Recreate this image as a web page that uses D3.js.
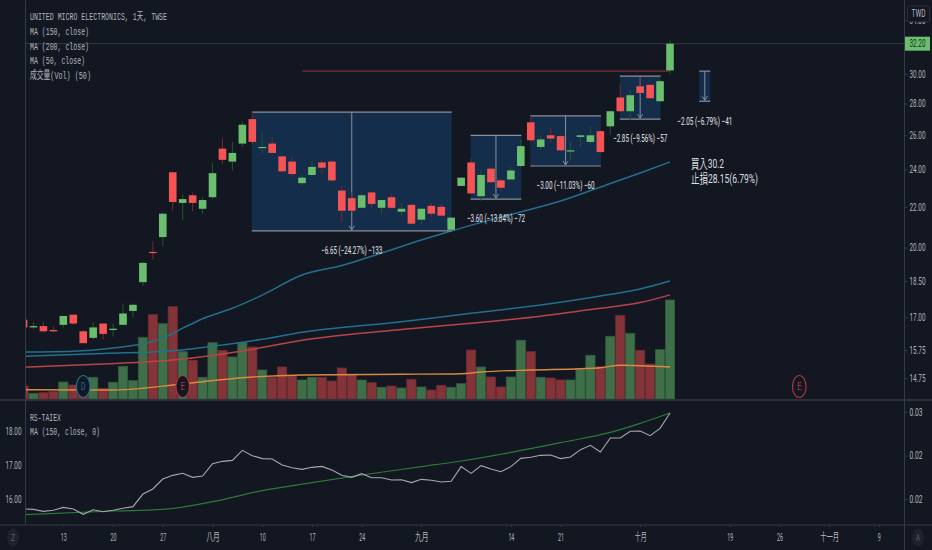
<!DOCTYPE html>
<html>
<head>
<meta charset="utf-8">
<script src="https://cdn.jsdelivr.net/npm/d3@7"></script>
<style>
  html, body { margin: 0; padding: 0; background: #131722; overflow: hidden; }
  svg { display: block; }
  text { font-family: Roboto, "Noto Sans CJK TC", sans-serif; }
  .legend text { font-family: "Liberation Mono", "Noto Sans CJK TC", monospace; }
</style>
</head>
<body>
<svg id="chart" width="932" height="550"></svg>
<script>
// daily bars, first one is cut by the left scale
const firstBar = -1;
const opens = [16.9,16.6,16.65,16.5,16.7,17.1,16.45,16.2,16.75,16.5,16.7,17.25,18.45,19.8,20.5,23.85,22.2,22.6,21.9,22.5,25.2,24.45,25.5,27.0,25.25,25.5,24.75,24.45,23.25,23.7,24.4,24.45,22.85,22.45,21.95,22.75,21.95,22.5,21.75,22.1,21.35,22.05,22.0,20.85,23.1,24.4,22.55,24.05,23.4,23.45,24.2,26.8,25.3,26.0,25.95,25.05,25.9,25.6,26.25,26.55,28.4,27.5,29.15,29.25,28.15,30.25];
const highs = [16.95,16.8,16.8,16.65,17.05,17.1,16.5,16.8,16.75,16.75,17.55,17.55,19.35,20.3,21.7,23.85,22.65,22.75,22.5,24.4,25.8,25.6,26.85,27.45,26.2,25.9,24.8,24.7,23.75,24.5,24.55,24.55,23.1,22.75,22.7,22.8,22.35,22.65,22.2,22.15,21.95,22.2,22.15,21.5,23.55,24.6,23.95,24.15,23.5,24.15,25.75,27.2,26.0,26.45,26.0,25.6,26.0,26.55,26.3,27.55,29.25,28.9,29.8,29.25,29.6,32.45];
const lows = [16.55,16.55,16.4,16.4,16.6,16.7,16.0,16.15,16.15,16.25,16.7,17.0,18.3,19.45,20.05,21.8,21.35,21.75,21.65,22.4,24.3,23.95,25.3,25.45,24.95,24.95,23.8,23.6,23.1,23.6,23.75,23.35,21.25,21.75,21.9,21.95,21.6,21.9,21.55,21.1,21.1,21.5,21.55,20.85,23.1,22.65,22.3,23.3,22.8,23.45,24.15,25.6,25.15,25.55,25.1,24.5,25.3,25.5,24.95,26.05,27.45,26.95,28.65,28.3,28.1,29.95];
const closes = [16.6,16.65,16.45,16.45,17.05,16.75,16.0,16.6,16.35,16.55,17.15,17.5,19.3,19.75,21.65,22.25,22.4,22.2,22.35,23.8,24.55,24.95,26.65,25.6,25.3,24.95,23.9,23.75,23.55,24.15,24.1,23.4,21.8,21.8,22.6,22.15,22.35,21.95,21.9,21.15,21.9,21.65,21.55,21.45,23.55,22.7,23.7,23.3,23.0,23.95,25.35,25.7,25.75,25.8,25.1,25.1,26.0,26.0,25.0,27.5,27.5,28.55,28.7,28.35,29.5,32.2];
const volumes = [13,5.7,6.3,7.3,17,14,12,21.7,10.7,16.7,32.7,18.3,61.7,84.3,75.3,92.3,47.3,38.7,21.7,56.3,48.7,42,56.3,52,29,21.7,32,23.3,19,21.7,21.7,18,31,24,19,16.3,11.7,13,11,19.7,12,9,13.7,11.7,15.3,49,32,22,12,22,58.7,47.3,21.7,21,19,19,29.7,43.7,32.3,62.7,83.7,65.7,48.7,35,49.3,99];

// moving averages as read at a few bars
const ma50Bars = [-1,4,8,11,13,15,17,20,23,27,31,35,39,42,47,53,58,61,64];
const ma50Values = [15.67,15.7,15.82,15.98,16.19,16.57,16.94,17.36,17.9,18.76,19.18,19.75,20.36,20.79,21.48,22.3,23.23,23.81,24.43];
const ma150Bars = [-1,7,14,18,23,27,37,44,51,57,61,64];
const ma150Values = [15.52,15.62,15.72,15.89,16.15,16.41,16.82,17.16,17.49,17.86,18.16,18.5];
const ma200Bars = [-1,7,14,21,27,37,44,51,57,61,64];
const ma200Values = [15.13,15.24,15.38,15.71,16.11,16.52,16.76,17.04,17.36,17.59,17.91];
const volMaBars = [-1,8,11,14,17,21,27,37,43,45,50,55,57,59,61,64];
const volMaValues = [9.3,9,10.7,14,17.3,21.3,24,24.7,25.3,27,29,30.3,31.3,33.7,33.3,32];

// RS-TAIEX pane
const rsValues = [.01885,.01881,.01858,.0187,.01904,.01885,.01824,.01877,.01854,.0187,.01893,.01912,.02057,.02115,.0223,.02272,.02295,.02249,.02264,.02406,.02433,.02444,.02559,.02498,.02464,.0246,.02391,.0236,.02341,.02364,.02375,.02333,.02272,.02249,.02291,.02245,.02245,.02218,.02222,.02188,.02226,.02215,.02195,.02203,.02372,.02295,.02383,.02345,.02314,.02372,.02467,.02479,.02502,.02506,.02464,.02483,.02567,.02617,.0254,.02701,.02701,.02778,.02782,.02728,.02812,.02989];
const rsMaBars = [-1,8,13,18,23,28,33,39,43,48,53,58,61,64];
const rsMaValues = [.0182,.01862,.01881,.01969,.02096,.02188,.02276,.02372,.02437,.02536,.02648,.02766,.0287,.02989];

// price range drawings
const rangeFrom = [22,44,50,59,67];
const rangeTo = [42,49,57,63,68];
const rangeTop = [27.45,26,27.2,29.85,30.2];
const rangeBottom = [20.8,22.4,24.2,27,28.15];
const rangeLabels = ["−6.65 (−24.27%) −133","−3.60 (−13.84%) −72","−3.00 (−11.03%) −60","−2.85 (−9.56%) −57","−2.05 (−6.79%) −41"];
const rangeLabelWidths = [61,58,58,54,55];

const buyPrice = 30.2, buyFrom = 27, buyTo = 64;
const lastPrice = 32.2;
const noteLines = ["買入30.2","止損28.15(6.79%)"];

const priceTicks = [34,30,28,26,24,22,20,18.5,17,15.75,14.75];
const rsRightTicks = [0.03,0.025,0.02];
const rsRightLabels = ["0.03","0.02","0.02"];
const rsLeftTicks = [18,17,16];
const dateBars = [3,8,13,18,23,28,33,39,48,53,61,70,75,80,85];
const dateLabels = ["13","20","27","八月","10","17","24","九月","14","21","十月","19","26","十一月","9"];
const dateLabelWidths = [6,6,6,13.5,6,6,6,13.5,6,6,12,6,6,19,3];
const earnings = [[5,"D"],[15,"E"],[77,"E"]];

const legendLines = ["UNITED MICRO ELECTRONICS, 1天, TWSE","MA (150, close)","MA (200, close)","MA (50, close)","成交量(Vol) (50)"];
const legendWidths = [137,59,59,55,61];
const rsLegendLines = ["RS-TAIEX","MA (150, close, 0)"];
const rsLegendWidths = [31,70];

const leftX = 25.5, rightX = 904.5, paneY = 400, bottomY = 525;
const up = "#69bf6d", down = "#f65454", textCol = "#b2b5be", lineCol = "#363a45";

const svg = d3.select("#chart");
svg.append("rect").attr("width", 932).attr("height", 550).attr("fill", "#131722");
svg.append("clipPath").attr("id", "plot").append("rect")
  .attr("x", leftX).attr("y", 0).attr("width", rightX - leftX).attr("height", bottomY);

const x = d3.scaleLinear().domain([0, 64]).range([33.5, 670]);
const y = d3.scaleLog().domain([30, 14.75]).range([74, 378]);
const yVol = d3.scaleLinear().domain([0, 99]).range([399, 300]);
const yRs = d3.scaleLinear().domain([0.02, 0.03]).range([499, 412]);
const yRsLeft = d3.scaleLinear().domain([16, 18]).range([499, 431]);

const bars = d3.range(opens.length);
const barX = i => x(i + firstBar);
const plot = svg.append("g").attr("clip-path", "url(#plot)");

// squeezes a text to the width it has in the screenshot
function fit(sel, w) {
  sel.attr("textLength", w).attr("lengthAdjust", "spacingAndGlyphs");
}

// volume
plot.append("g").selectAll("rect").data(bars).join("rect")
  .attr("x", i => barX(i) - 4.6)
  .attr("width", 9.2)
  .attr("y", i => yVol(volumes[i]))
  .attr("height", i => yVol(0) - yVol(volumes[i]))
  .attr("fill", i => closes[i] >= opens[i] ? "#3f6f49" : "#843338")
  .attr("stroke", i => closes[i] >= opens[i] ? "#335a3d" : "#6c2c31")
  .attr("stroke-width", 0.8);

function drawLine(g, barList, values, scale, color, width) {
  const line = d3.line().x(d => x(d[0])).y(d => scale(d[1])).curve(d3.curveMonotoneX);
  g.append("path")
    .attr("d", line(barList.map((b, k) => [b, values[k]])))
    .attr("fill", "none").attr("stroke", color).attr("stroke-width", width);
}

drawLine(plot, volMaBars, volMaValues, yVol, "#d98a42", 1.4);
drawLine(plot, ma200Bars, ma200Values, y, "#b84448", 1.5);
drawLine(plot, ma150Bars, ma150Values, y, "#22708c", 1.5);
drawLine(plot, ma50Bars, ma50Values, y, "#22708c", 1.5);

// last price line and buy line
plot.append("line").attr("x1", leftX).attr("x2", rightX)
  .attr("y1", y(lastPrice)).attr("y2", y(lastPrice))
  .attr("stroke", "#2c3f3a").attr("stroke-width", 1);
plot.append("line").attr("x1", x(buyFrom)).attr("x2", x(buyTo))
  .attr("y1", y(buyPrice)).attr("y2", y(buyPrice))
  .attr("stroke", "#7c2f30").attr("stroke-width", 1.3);

// price range boxes
rangeLabels.forEach((label, k) => {
  const x0 = x(rangeFrom[k]) - 0.5, x1 = x(rangeTo[k]) + 0.5;
  const y0 = y(rangeTop[k]), y1 = y(rangeBottom[k]);
  const mx = (x0 + x1) / 2;
  const g = plot.append("g");
  g.append("rect").attr("x", x0).attr("y", y0).attr("width", x1 - x0).attr("height", y1 - y0).attr("fill", "#132d4a");
  [y0, y1].forEach(v => g.append("line").attr("x1", x0).attr("x2", x1).attr("y1", v).attr("y2", v)
    .attr("stroke", "#8d9099").attr("stroke-width", 1.2));
  g.append("path").attr("d", `M${mx},${y0}V${y1 - 1}M${mx - 2.6},${y1 - 5}L${mx},${y1 - 1}L${mx + 2.6},${y1 - 5}`)
    .attr("fill", "none").attr("stroke", "#8d9099").attr("stroke-width", 1);
  g.append("text").attr("x", mx).attr("y", y1 + 19.5).attr("dy", "0.35em")
    .attr("text-anchor", "middle").attr("fill", "#e4e5e8").attr("font-size", 11)
    .text(label).call(fit, rangeLabelWidths[k]);
});

// candles
const candles = plot.append("g");
candles.selectAll("line").data(bars).join("line")
  .attr("x1", i => barX(i)).attr("x2", i => barX(i))
  .attr("y1", i => y(highs[i])).attr("y2", i => y(lows[i]))
  .attr("stroke", i => closes[i] >= opens[i] ? "#24512f" : "#6b2a2e").attr("stroke-width", 1.1);
candles.selectAll("rect").data(bars).join("rect")
  .attr("x", i => barX(i) - 3.8)
  .attr("width", 7.6)
  .attr("y", i => y(Math.max(opens[i], closes[i])))
  .attr("height", i => Math.max(1.2, Math.abs(y(opens[i]) - y(closes[i]))))
  .attr("fill", i => closes[i] >= opens[i] ? up : down);

// earnings and dividend badges
earnings.forEach(([b, letter]) => {
  const col = letter === "D" ? "#1f6f93" : "#a8383c";
  const g = svg.append("g").attr("transform", `translate(${x(b)},386.5)`);
  g.append("ellipse").attr("rx", 6.8).attr("ry", 11).attr("fill", "#131722").attr("stroke", col).attr("stroke-width", 1.2);
  g.append("text").attr("dy", "0.35em").attr("text-anchor", "middle").attr("fill", col)
    .attr("font-size", 10).text(letter).call(fit, 4.5);
});

// notes
noteLines.forEach((t, k) => {
  svg.append("text").attr("x", 691).attr("y", 163 + k * 15).attr("dy", "0.35em")
    .attr("fill", "#dcdde0").attr("font-size", 13).text(t).call(fit, k ? 67 : 33);
});

// RS pane
const rsBars = bars.map(i => i + firstBar);
drawLine(plot, rsMaBars, rsMaValues, yRs, "#2b7a3a", 1.2);
const rsLine = d3.line().x(d => x(d[0])).y(d => yRs(d[1]));
plot.append("path").attr("d", rsLine(rsBars.map((b, k) => [b, rsValues[k]])))
  .attr("fill", "none").attr("stroke", "#a6a8ae").attr("stroke-width", 1.1);

// frame
svg.append("line").attr("x1", 0).attr("x2", 932).attr("y1", paneY).attr("y2", paneY)
  .attr("stroke", lineCol).attr("stroke-width", 1.6);

function styleAxis(g, width) {
  g.select(".domain").attr("stroke", lineCol);
  g.selectAll(".tick line").attr("stroke", lineCol);
  g.selectAll(".tick text").attr("fill", textCol).attr("font-size", 10.5)
    .attr("font-family", "Roboto").call(fit, width);
}

// right scale of the price pane
const gPrice = svg.append("g").attr("transform", `translate(${rightX},0)`)
  .call(d3.axisRight(y).tickValues(priceTicks).tickFormat(d3.format(".2f")).tickSize(3).tickPadding(2));
gPrice.select(".domain").remove();
styleAxis(gPrice, 16);

const gRsRight = svg.append("g").attr("transform", `translate(${rightX},0)`)
  .call(d3.axisRight(yRs).tickValues(rsRightTicks).tickFormat((d, k) => rsRightLabels[k]).tickSize(3).tickPadding(2));
gRsRight.select(".domain").remove();
styleAxis(gRsRight, 13);

const gRsLeft = svg.append("g").attr("transform", `translate(${leftX},0)`)
  .call(d3.axisLeft(yRsLeft).tickValues(rsLeftTicks).tickFormat(d3.format(".2f")).tickSize(0).tickPadding(4));
gRsLeft.select(".domain").remove();
styleAxis(gRsLeft, 16);

// date axis
const gDate = svg.append("g").attr("transform", `translate(0,${bottomY})`)
  .call(d3.axisBottom(x).tickValues(dateBars).tickFormat((d, k) => dateLabels[k]).tickSize(2).tickPadding(6));
gDate.select(".domain").remove();
gDate.selectAll(".tick line").attr("stroke", lineCol);
gDate.selectAll(".tick text").attr("fill", textCol).attr("font-size", 11)
  .each(function (d, k) { d3.select(this).call(fit, dateLabelWidths[k]); });

[[leftX, 0, leftX, bottomY], [rightX, 0, rightX, 550], [0, bottomY, 932, bottomY]].forEach(([a, b, c, e]) => {
  svg.append("line").attr("x1", a).attr("y1", b).attr("x2", c).attr("y2", e)
    .attr("stroke", lineCol).attr("stroke-width", 1);
});

// last price tag
svg.append("rect").attr("x", rightX + 0.5).attr("y", y(lastPrice) - 7).attr("width", 25).attr("height", 14).attr("fill", up);
svg.append("text").attr("x", rightX + 13).attr("y", y(lastPrice)).attr("dy", "0.35em")
  .attr("text-anchor", "middle").attr("fill", "#1c2a20").attr("font-size", 10.5)
  .text(lastPrice.toFixed(2)).call(fit, 16);

// currency button
svg.append("rect").attr("x", 907.5).attr("y", 6).attr("width", 22).attr("height", 15.5).attr("rx", 2)
  .attr("fill", "#131722").attr("stroke", "#2a2e39");
svg.append("text").attr("x", 918.5).attr("y", 13.5).attr("dy", "0.35em").attr("text-anchor", "middle")
  .attr("fill", textCol).attr("font-size", 10.5).text("TWD").call(fit, 14);

// scale mode buttons
[[13, "Z"], [918, "A"]].forEach(([cx, letter]) => {
  svg.append("ellipse").attr("cx", cx).attr("cy", 537.5).attr("rx", 6).attr("ry", 9).attr("fill", "#1e222d");
  svg.append("text").attr("x", cx).attr("y", 537.5).attr("dy", "0.35em").attr("text-anchor", "middle")
    .attr("fill", "#5d606b").attr("font-size", 9).text(letter).call(fit, 4);
});

// legends
const legend = svg.append("g").attr("class", "legend");
legendLines.forEach((t, k) => {
  legend.append("text").attr("x", 30).attr("y", 16.4 + k * 14.7).attr("dy", "0.35em")
    .attr("fill", textCol).attr("font-size", 11).text(t).call(fit, legendWidths[k]);
});
rsLegendLines.forEach((t, k) => {
  legend.append("text").attr("x", 30).attr("y", 417 + k * 14.5).attr("dy", "0.35em")
    .attr("fill", textCol).attr("font-size", 11).text(t).call(fit, rsLegendWidths[k]);
});
</script>
</body>
</html>
